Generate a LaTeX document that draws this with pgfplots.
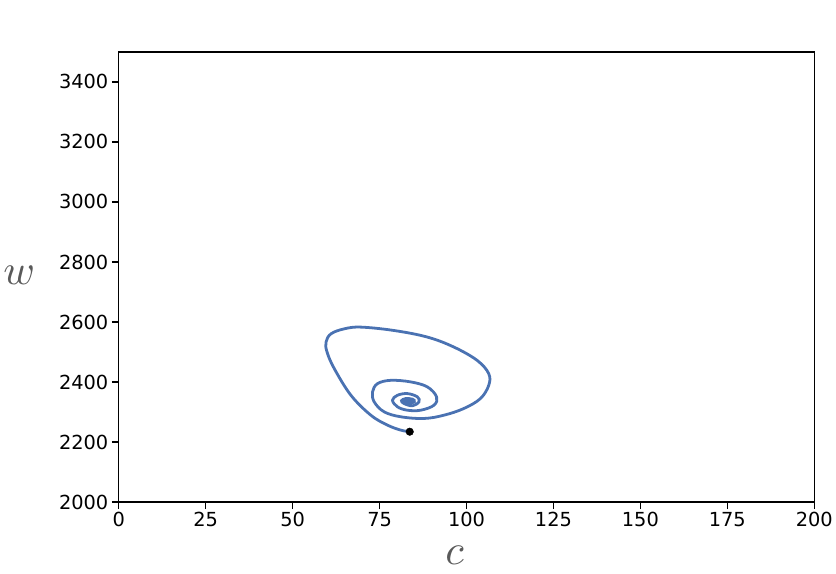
\documentclass[border=0pt]{standalone}
\usepackage{pgfplots}
\pgfplotsset{compat=1.18}
\usepackage{graphicx}
\usepackage{fontspec}
\setmainfont{DejaVu Sans}
\definecolor{curve}{HTML}{4A72B2}
\definecolor{lab}{HTML}{5A5A5A}
\begin{document}
\begin{tikzpicture}
\begin{axis}[
  scale only axis, width=698bp, height=452bp,
  xmin=0, xmax=200, ymin=2000, ymax=3500,
  xtick={0,25,...,200}, ytick={2000,2200,...,3400},
  xtick pos=bottom, ytick pos=left,
  tick align=outside, major tick length=7bp,
  axis line style={line width=1.4bp}, every tick/.style={line width=1.4bp, black},
  tick label style={font=\fontsize{19.5}{23}\selectfont},
  /pgf/number format/assume math mode=true,
  /pgf/number format/1000 sep={},
  every axis x label/.style={at={(axis description cs:0.5,0)}, anchor=center, yshift=-53bp, xshift=-12bp},
  every axis y label/.style={at={(axis description cs:0,0.5)}, anchor=center, xshift=-100bp, yshift=2bp},
  xlabel={\textcolor{lab}{\scalebox{4.3}{$c$}}},
  ylabel={\textcolor{lab}{\scalebox{4.3}{$w$}}},
  clip=false,
]
\addplot[curve, line width=2.8bp, smooth, tension=0.6] coordinates {
(83.67,2234.6) (81.09,2239.9) (77.28,2256.5) (72.49,2289.6) (66.76,2356.0)
(61.98,2444.6) (59.89,2500.0) (59.60,2533.2) (61.03,2560.7) (64.84,2577.3)
(69.63,2583.0) (79.17,2571.7) (88.74,2549.8) (96.36,2516.6) (103.07,2472.1)
(106.39,2428.0) (106.39,2389.2) (104.01,2345.1) (99.23,2311.9) (93.50,2289.6)
(87.77,2278.7) (81.09,2284.3) (76.30,2300.9) (73.44,2334.1) (72.98,2367.3)
(74.41,2394.8) (78.22,2405.8) (83.95,2400.5) (88.74,2383.9) (91.40,2350.7)
(90.63,2322.8) (86.82,2306.2) (83.01,2306.2) (80.14,2317.5) (78.71,2339.4)
(80.14,2356.0) (83.01,2361.6) (85.87,2350.7) (86.33,2334.1) (84.44,2320.8)
(82.03,2328.5) (81.3,2338) (82.5,2345) (84.5,2343) (85.0,2335) (83.5,2330)
(82.5,2335) (83.5,2339) (84.0,2336) (83.4,2335)
};
\addplot[only marks, mark=*, mark size=3.8bp, black] coordinates {(83.67,2234.6)};
\end{axis}
\path (current axis.south west) ++(-117bp,-72bp);
\path (current axis.north east) ++(21bp,52bp);
\end{tikzpicture}
\end{document}
